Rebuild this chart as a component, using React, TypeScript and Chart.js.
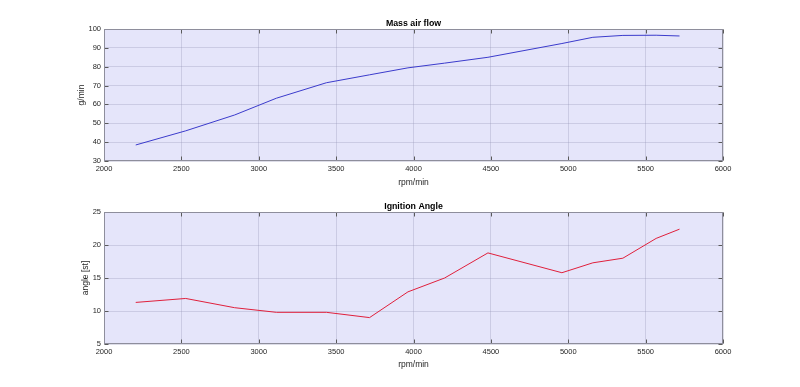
import React, { useEffect, useRef } from "react";
import { Chart, registerables } from "chart.js";

Chart.register(...registerables);

// ---- data ----
const rpm = [2205, 2528, 2844, 3114, 3437, 3716, 3964, 4201, 4481, 4959, 5159, 5353, 5568, 5719];
const massAirFlow = [38.5, 46.0, 54.4, 63.3, 71.5, 75.7, 79.4, 81.9, 85.0, 92.3, 95.6, 96.6, 96.7, 96.3];
const ignitionAngle = [11.3, 11.9, 10.5, 9.8, 9.8, 9.0, 12.9, 15.0, 18.8, 15.8, 17.3, 18.0, 21.0, 22.4];

const xRange = [2000, 6000];
const xStep = 500;
const mafRange = [30, 100];
const mafStep = 10;
const ignRange = [5, 25];
const ignStep = 5;

const titles = ["Mass air flow", "Ignition Angle"];
const yLabels = ["g/min", "angle [st]"];
const xLabel = "rpm/min";

// ---- style ----
const FONT = '"Liberation Sans", Arial, Helvetica, sans-serif';
const BG = "rgb(229,229,250)";
const GRID = "rgba(150,150,185,0.32)";
const BORDER = "#8e8e9c";
const TICK = "#5a5a5a";
const TEXT = "#262626";

interface PanelProps {
  title: string;
  yLabel: string;
  values: number[];
  color: string;
  yRange: number[];
  yStep: number;
  height: number;
  padTop: number;
  xAxisHeight: number;
  xTitlePad: number;
  yTitlePad: number;
}

function makeAxesPlugin(title: string) {
  return {
    id: "matlabAxes",
    beforeDraw(chart: any) {
      const { ctx, chartArea: a } = chart;
      ctx.save();
      ctx.fillStyle = BG;
      ctx.fillRect(a.left, a.top, a.right - a.left, a.bottom - a.top);
      ctx.restore();
    },
    afterDraw(chart: any) {
      const { ctx, chartArea: a } = chart;
      const xs = chart.scales.x;
      const ys = chart.scales.y;
      const L = Math.round(a.left) + 0.5;
      const R = Math.round(a.right) - 0.5;
      const T = Math.round(a.top) + 0.5;
      const B = Math.round(a.bottom) - 0.5;
      const tl = 4;
      ctx.save();
      ctx.lineWidth = 1;
      ctx.strokeStyle = TICK;
      ctx.beginPath();
      xs.ticks.forEach((t: any) => {
        const px = Math.round(xs.getPixelForValue(t.value)) + 0.5;
        ctx.moveTo(px, B);
        ctx.lineTo(px, B - tl);
        ctx.moveTo(px, T);
        ctx.lineTo(px, T + tl);
      });
      ys.ticks.forEach((t: any) => {
        const py = Math.round(ys.getPixelForValue(t.value)) + 0.5;
        ctx.moveTo(L, py);
        ctx.lineTo(L + tl, py);
        ctx.moveTo(R, py);
        ctx.lineTo(R - tl, py);
      });
      ctx.stroke();
      ctx.strokeStyle = BORDER;
      ctx.strokeRect(L, T, R - L, B - T);
      // title
      ctx.fillStyle = "#000";
      ctx.font = `bold 8.8px ${FONT}`;
      ctx.textAlign = "center";
      ctx.textBaseline = "alphabetic";
      ctx.fillText(title, (a.left + a.right) / 2, a.top - 3.4);
      ctx.restore();
    },
  };
}

const plainNumber = (v: any) => String(v);

function Panel(p: PanelProps) {
  const ref = useRef<HTMLCanvasElement | null>(null);
  useEffect(() => {
    if (!ref.current) return;
    const points = rpm.map((r, i) => ({ x: r, y: p.values[i] }));
    const chart = new Chart(ref.current, {
      type: "line",
      data: {
        datasets: [
          {
            data: points,
            borderColor: p.color,
            borderWidth: 1,
            pointRadius: 0,
            tension: 0,
            fill: false,
          },
        ],
      },
      options: {
        responsive: false,
        animation: false,
        devicePixelRatio: 1,
        layout: { padding: { left: 0, right: 77, top: p.padTop, bottom: 0 } },
        plugins: { legend: { display: false }, tooltip: { enabled: false }, title: { display: false } },
        scales: {
          x: {
            type: "linear",
            min: xRange[0],
            max: xRange[1],
            ticks: {
              stepSize: xStep,
              padding: 3,
              maxRotation: 0,
              autoSkip: false,
              color: TEXT,
              font: { family: FONT, size: 7.5 },
              callback: plainNumber,
            },
            grid: { color: GRID, drawTicks: false, lineWidth: 1 },
            border: { display: false },
            title: {
              display: true,
              text: xLabel,
              color: TEXT,
              font: { family: FONT, size: 8.5 },
              padding: { top: 0, bottom: p.xTitlePad },
            },
            afterFit: (s: any) => {
              s.height = p.xAxisHeight;
              s.paddingLeft = 0;
              s.paddingRight = 0;
            },
          },
          y: {
            type: "linear",
            min: p.yRange[0],
            max: p.yRange[1],
            ticks: {
              stepSize: p.yStep,
              padding: 3,
              autoSkip: false,
              color: TEXT,
              font: { family: FONT, size: 7.5 },
              callback: plainNumber,
            },
            grid: { color: GRID, drawTicks: false, lineWidth: 1 },
            border: { display: false },
            title: {
              display: true,
              text: p.yLabel,
              color: TEXT,
              font: { family: FONT, size: 8.5 },
              padding: { top: p.yTitlePad, bottom: 0 },
            },
            afterFit: (s: any) => {
              s.width = 104;
              s.paddingTop = 0;
              s.paddingBottom = 0;
            },
          },
        },
      },
      plugins: [makeAxesPlugin(p.title)],
    } as any);
    return () => chart.destroy();
  }, []);
  return (
    <canvas
      ref={ref}
      width={800}
      height={p.height}
      style={{ display: "block", width: 800, height: p.height }}
    />
  );
}

export default function App() {
  return (
    <div
      style={{
        position: "absolute",
        left: 0,
        top: 0,
        width: 800,
        height: 387,
        background: "#fff",
        overflow: "hidden",
      }}
    >
      <Panel
        title={titles[0]}
        yLabel={yLabels[0]}
        values={massAirFlow}
        color="#3b3bcc"
        yRange={mafRange}
        yStep={mafStep}
        height={193}
        padTop={29}
        xAxisHeight={32}
        xTitlePad={5.4}
        yTitlePad={76.4}
      />
      <Panel
        title={titles[1]}
        yLabel={yLabels[1]}
        values={ignitionAngle}
        color="#e0203c"
        yRange={ignRange}
        yStep={ignStep}
        height={194}
        padTop={19}
        xAxisHeight={43}
        xTitlePad={17.2}
        yTitlePad={80.7}
      />
    </div>
  );
}
